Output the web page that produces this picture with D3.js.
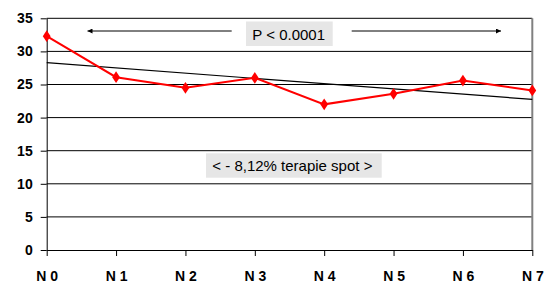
<!DOCTYPE html>
<html>
<head>
<meta charset="utf-8">
<script src="https://cdn.jsdelivr.net/npm/d3@7"></script>
<style>
  body { margin: 0; background: #fff; }
  svg { display: block; font-family: Arial, "Liberation Sans", sans-serif; }
</style>
</head>
<body>
<script>
var categories = ["N 0", "N 1", "N 2", "N 3", "N 4", "N 5", "N 6", "N 7"];
var values = [32.3, 26.1, 24.5, 26.0, 22.0, 23.6, 25.6, 24.1];
var yTicks = [0, 5, 10, 15, 20, 25, 30, 35];
var pLabel = "P < 0.0001";
var noteLabel = "< - 8,12% terapie spot >";

var width = 547, height = 284;
// note: "top" clashes with window.top, so use plot* names
var plotLeft = 46.7, plotRight = 532.3, plotTop = 18.3, plotBottom = 250;

var svg = d3.select("body").append("svg")
    .attr("width", width)
    .attr("height", height);

var x = d3.scalePoint()
    .domain(categories)
    .range([plotLeft, plotRight]);

var y = d3.scaleLinear()
    .domain([0, 35])
    .range([plotBottom, plotTop]);

// gridlines
svg.append("g")
    .selectAll("line")
    .data(yTicks.filter(function (d) { return d > 0; }))
    .enter().append("line")
    .attr("x1", plotLeft).attr("x2", plotRight)
    .attr("y1", function (d) { return y(d); })
    .attr("y2", function (d) { return y(d); })
    .attr("stroke", "#000")
    .attr("stroke-width", 1);

// right border
svg.append("line")
    .attr("x1", plotRight).attr("x2", plotRight)
    .attr("y1", plotTop).attr("y2", plotBottom)
    .attr("stroke", "#808080")
    .attr("stroke-width", 2);

// y axis
var yAxis = svg.append("g")
    .attr("transform", "translate(" + plotLeft + ",0)")
    .call(d3.axisLeft(y).tickValues(yTicks).tickSize(6).tickSizeOuter(0).tickPadding(8));
yAxis.select(".domain").attr("stroke", "#000");
yAxis.selectAll(".tick line").attr("stroke", "#000");
yAxis.selectAll(".tick text")
    .attr("fill", "#000")
    .style("font-size", "14px")
    .style("font-weight", "bold")
    .style("font-family", "Arial, 'Liberation Sans', sans-serif");

// x axis
var xAxis = svg.append("g")
    .attr("transform", "translate(0," + plotBottom + ")")
    .call(d3.axisBottom(x).tickSize(6).tickSizeOuter(0).tickPadding(15));
xAxis.select(".domain").attr("stroke", "#000");
xAxis.selectAll(".tick line").attr("stroke", "#000");
xAxis.selectAll(".tick text")
    .attr("fill", "#000")
    .style("font-size", "14px")
    .style("font-weight", "bold")
    .style("font-family", "Arial, 'Liberation Sans', sans-serif");

// linear trend through the series
var n = values.length;
var mx = d3.mean(d3.range(n)), my = d3.mean(values);
var sxy = d3.sum(values, function (v, i) { return (i - mx) * (v - my); });
var sxx = d3.sum(d3.range(n), function (i) { return (i - mx) * (i - mx); });
var slope = sxy / sxx, intercept = my - slope * mx;

svg.append("line")
    .attr("x1", x(categories[0]))
    .attr("y1", y(intercept))
    .attr("x2", x(categories[n - 1]))
    .attr("y2", y(intercept + slope * (n - 1)))
    .attr("stroke", "#000")
    .attr("stroke-width", 1.2);

// series line
var line = d3.line()
    .x(function (d, i) { return x(categories[i]); })
    .y(function (d) { return y(d); });

svg.append("path")
    .datum(values)
    .attr("d", line)
    .attr("fill", "none")
    .attr("stroke", "#ff0000")
    .attr("stroke-width", 2);

svg.append("g")
    .selectAll("path")
    .data(values)
    .enter().append("path")
    .attr("d", d3.symbol().type(d3.symbolDiamond).size(40))
    .attr("transform", function (d, i) { return "translate(" + x(categories[i]) + "," + y(d) + ") scale(1.15,1)"; })
    .attr("fill", "#ff0000");

// arrows
var defs = svg.append("defs");
defs.append("marker")
    .attr("id", "head")
    .attr("viewBox", "0 0 10 10")
    .attr("refX", 10).attr("refY", 5)
    .attr("markerWidth", 6).attr("markerHeight", 5)
    .attr("markerUnits", "userSpaceOnUse")
    .attr("orient", "auto")
    .append("path")
    .attr("d", "M0,0L10,5L0,10Z")
    .attr("fill", "#000");

var arrowY = 31;
svg.append("line")
    .attr("x1", 231.7).attr("y1", arrowY)
    .attr("x2", 87.5).attr("y2", arrowY)
    .attr("stroke", "#000").attr("stroke-width", 1)
    .attr("marker-end", "url(#head)");
svg.append("line")
    .attr("x1", 351.7).attr("y1", arrowY)
    .attr("x2", 501).attr("y2", arrowY)
    .attr("stroke", "#000").attr("stroke-width", 1)
    .attr("marker-end", "url(#head)");

// labels with grey boxes
function label(text, bx, by, bw, bh, tx, ty) {
    svg.append("rect")
        .attr("x", bx).attr("y", by)
        .attr("width", bw).attr("height", bh)
        .attr("fill", "#e6e6e6");
    svg.append("text")
        .attr("x", tx).attr("y", ty)
        .attr("fill", "#000")
        .style("font-size", "15px")
        .text(text);
}
label(pLabel, 246, 21.5, 86.7, 24.5, 252.3, 40);
label(noteLabel, 206, 153.3, 175.7, 24.4, 212.3, 171);
</script>
</body>
</html>
